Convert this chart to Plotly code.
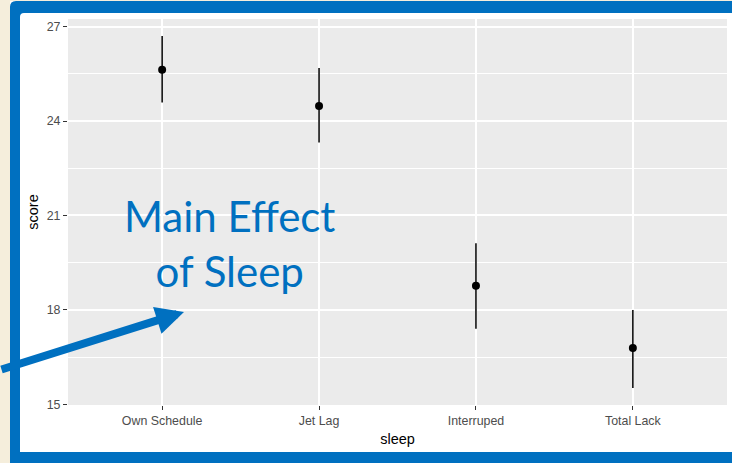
import plotly.graph_objects as go

categories = ["Own Schedule", "Jet Lag", "Interruped", "Total Lack"]
means = [25.63, 24.48, 18.77, 16.79]
upper = [26.70, 25.68, 20.12, 18.00]
lower = [24.59, 23.32, 17.40, 15.52]
y_ticks = [15, 18, 21, 24, 27]

W, H = 732, 463
L, R, T, B = 68, 5, 19, 58
PW, PH = W - L - R, H - T - B

def px(x):
    return (x - L) / PW

def py(y):
    return (H - B - y) / PH

BLUE = "#0070C0"
BEIGE = "#F5EEDC"

fig = go.Figure()
fig.add_trace(go.Scatter(
    x=categories, y=means, mode="markers",
    marker=dict(color="black", size=8),
    error_y=dict(type="data", symmetric=False,
                 array=[u - m for u, m in zip(upper, means)],
                 arrayminus=[m - l for m, l in zip(means, lower)],
                 color="black", thickness=1.5, width=0),
    showlegend=False, cliponaxis=False,
))

def pt(x, y):
    return f"{px(x)},{py(y)}"

frame_path = ("M" + pt(10, H) + " L" + pt(10, 7) + " Q" + pt(10, 1) + " " + pt(16, 1) +
              " L" + pt(W, 1) + " L" + pt(W, 13) + " L" + pt(24, 13) +
              " Q" + pt(20, 13) + " " + pt(20, 17) + " L" + pt(20, 452) +
              " L" + pt(W, 452) + " L" + pt(W, H) + " Z")

shapes = [
    dict(type="rect", xref="paper", yref="paper", layer="below",
         x0=px(0), x1=px(10), y0=py(H), y1=py(0), fillcolor=BEIGE, line=dict(width=0)),
    dict(type="rect", xref="paper", yref="paper", layer="below",
         x0=px(0), x1=px(W), y0=py(1), y1=py(0), fillcolor=BEIGE, line=dict(width=0)),
    dict(type="path", xref="paper", yref="paper", layer="below",
         path=frame_path, fillcolor=BLUE, line=dict(width=0)),
    dict(type="rect", xref="paper", yref="paper", layer="below",
         x0=0, x1=1, y0=0, y1=1, fillcolor="#EBEBEB", line=dict(width=0)),
    dict(type="rect", xref="paper", yref="paper", layer="above",
         x0=px(727.5), x1=px(W + 6), y0=py(452), y1=py(13), fillcolor="white", line=dict(width=0)),
]

annotations = [
    dict(xref="paper", yref="paper", x=px(229), y=py(243),
         text="Main Effect<br>of Sleep", showarrow=False,
         font=dict(family="Lato", size=42, color=BLUE),
         xanchor="center", yanchor="middle", align="center"),
    dict(xref="paper", yref="paper", x=px(184), y=py(312),
         text="", showarrow=True, axref="pixel", ayref="pixel",
         ax=-190, ay=58, arrowhead=2, arrowsize=0.7, arrowwidth=8,
         arrowcolor=BLUE, standoff=0),
]

fig.update_layout(
    width=W, height=H,
    margin=dict(l=L, r=R, t=T, b=B, pad=0, autoexpand=False),
    paper_bgcolor="white",
    plot_bgcolor="#EBEBEB",
    font=dict(family="Liberation Sans, Arial", color="#4D4D4D", size=12),
    shapes=shapes, annotations=annotations,
    xaxis=dict(
        type="category", range=[-0.6, 3.6], showgrid=True, gridcolor="white",
        gridwidth=1.5, zeroline=False, showline=False, automargin=False,
        ticks="outside", ticklen=4, tickcolor="#333333", tickwidth=1,
        tickfont=dict(size=12.4, color="#4D4D4D"),
        title=dict(text="sleep", font=dict(size=14.5, color="black"), standoff=6),
    ),
    yaxis=dict(
        range=[14.98, 27.24], tickvals=y_ticks, showgrid=True, gridcolor="white",
        gridwidth=1.5, zeroline=False, showline=False, automargin=False,
        ticks="outside", ticklen=4, tickcolor="#333333", tickwidth=1,
        tickfont=dict(size=12.4, color="#4D4D4D"),
        minor=dict(dtick=1.5, tick0=15, showgrid=True, gridcolor="white", gridwidth=0.8),
        title=dict(text="score", font=dict(size=14.5, color="black"), standoff=4),
    ),
)

fig.write_html("out.html", config={"displayModeBar": False},
               post_script="document.body.style.margin='0';document.body.style.overflow='hidden';")
